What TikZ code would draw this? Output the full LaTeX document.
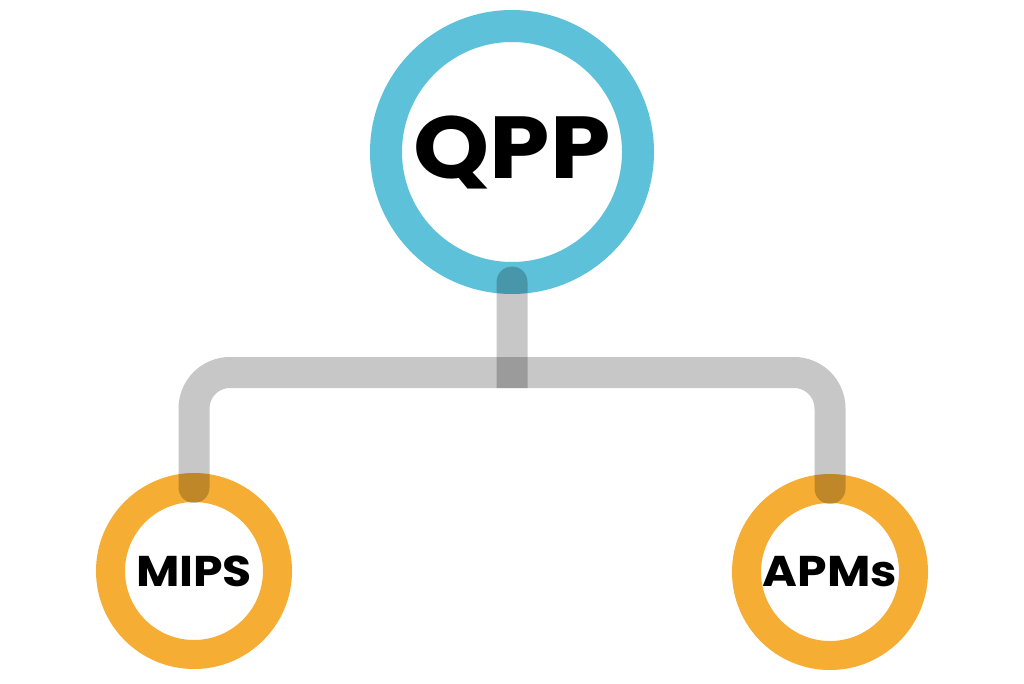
\documentclass[tikz,border=0pt]{standalone}
\usepackage{fontspec}
\setmainfont{Poppins}
\newfontfamily\widefont{Poppins}[FakeStretch=1.1]
\begin{document}
\begin{tikzpicture}[x=1pt,y=1pt,
  ring/.style={circle,draw,inner sep=0pt,outer sep=0pt,font=\widefont\bfseries},
  bigring/.style={ring,draw=qppblue,line width=32pt,minimum size=252pt},
  smallring/.style={ring,draw=leaforange,line width=29pt,minimum size=167pt},
  branch/.style={draw=black,draw opacity=0.22,line width=31pt,line cap=round,rounded corners=36pt},
  stemfill/.style={fill=black,fill opacity=0.22}]
\definecolor{qppblue}{HTML}{5DC1D9}
\definecolor{leaforange}{HTML}{F5AD33}
\useasboundingbox[fill=white] (0,0) rectangle (1024,-683);
\node[bigring] (qpp) at (512,-152) {\fontsize{88}{88}\selectfont QPP};
\node[smallring] (mips) at (194,-571) {\fontsize{43}{43}\selectfont MIPS};
\node[smallring] (apms) at (830,-572) {\fontsize{43}{43}\selectfont APMs};
\coordinate (bar) at (512,-372.5);
\draw[branch] (mips.north) -- (mips.north |- bar) -- (apms.north |- bar) -- (apms.north);
\path (qpp.south) ++(0,-4) coordinate (stemtop);
\fill[stemfill] (stemtop) ++(-15.5,0) arc[start angle=180,end angle=0,radius=15.5] -- ++(0,-106) -- ++(-31,0) -- cycle;
\end{tikzpicture}
\end{document}
